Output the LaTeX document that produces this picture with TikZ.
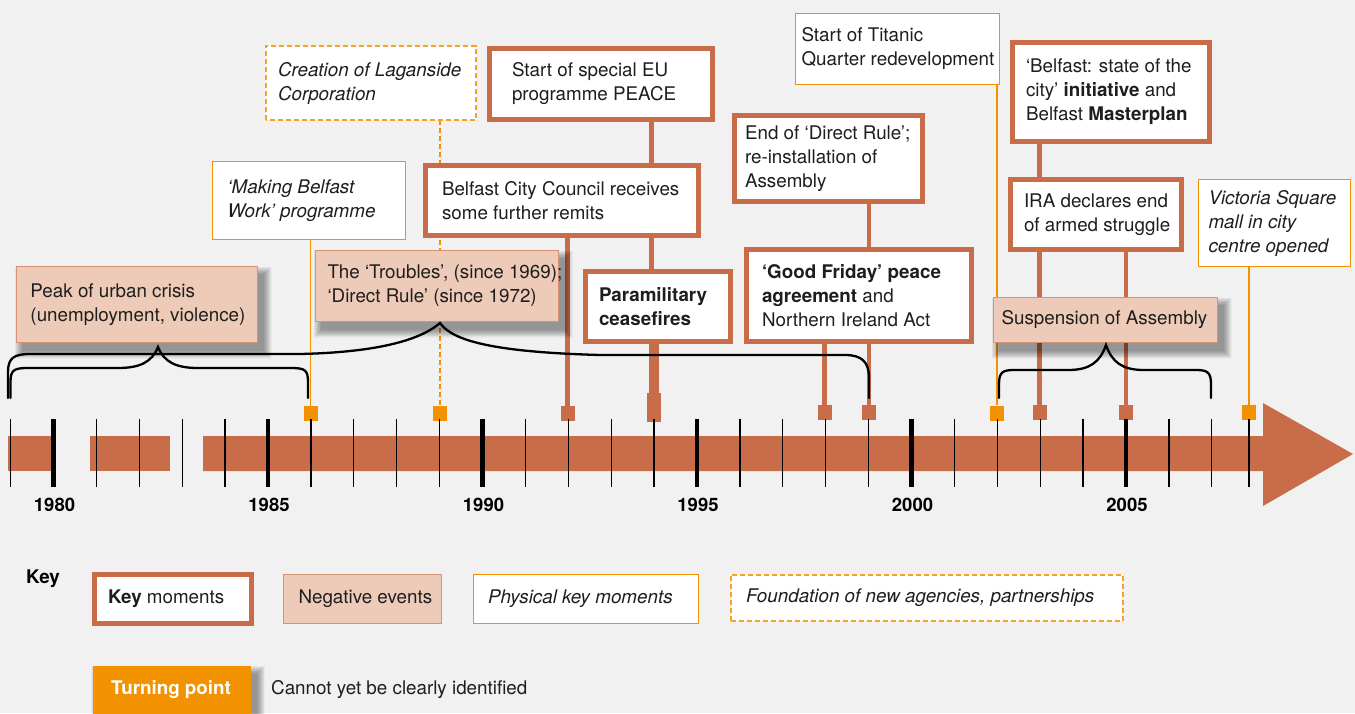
\documentclass[tikz,border=0pt]{standalone}
\usepackage{fontspec}
\setmainfont{TeX Gyre Heros}
\definecolor{rust}{HTML}{C96C4A}
\definecolor{amber}{HTML}{F39200}
\definecolor{blush}{HTML}{EDCBB8}
\definecolor{paper}{HTML}{F0F1F0}
\definecolor{ink}{HTML}{1E1E1E}

% soft drop shadow, offset down and to the right, behind a named rectangular node
\newcommand\castshadow[1]{%
  \foreach \g in {0,0.6,...,8.4}{%
    \fill[black, fill opacity=0.03]
      ([xshift={(6-\g)*1pt}, yshift={(-8+\g)*1pt}]#1.north west)
      rectangle ([xshift={(6+\g)*1pt}, yshift={(-8-\g)*1pt}]#1.south east);
  }%
}

\begin{document}
\begin{tikzpicture}[x=1pt,y=-1pt,
  txt/.style={font=\fontsize{18.8}{24}\selectfont},
  every node/.style={txt, text=ink},
  ital/.style={font=\fontsize{18.8}{24}\selectfont\itshape},
  area/.style={rectangle, inner sep=0pt},
  keyframe/.style={draw=rust, fill=white, line width=5pt},
  physframe/.style={draw=amber, fill=white, line width=1.2pt},
  agencyframe/.style={draw=amber!85, fill=white, line width=1.5pt, dash pattern=on 5pt off 3pt},
  negframe/.style={draw=rust!75, fill=blush, line width=1.2pt},
  boxtext/.style={anchor=west, align=left, inner sep=0pt},
  keyline/.style={draw=rust, line width=4.5pt},
  physline/.style={draw=amber, line width=1.8pt},
  agencyline/.style={draw=amber, line width=1.8pt, dash pattern=on 5pt off 3pt},
  bracket/.style={draw=black, line width=2.3pt, line cap=round},
  minortick/.style={draw=black, line width=1.3pt},
  majortick/.style={draw=black, line width=4.5pt},
  eventmark/.style={rectangle, inner sep=0pt, minimum width=14pt, minimum height=15pt},
  year/.style={font=\fontsize{18.5}{20}\selectfont\bfseries, text=black},
]
\useasboundingbox (0,0) rectangle (1355,713);
\fill[paper] (0,0) rectangle (1355,713);

% ---------- box areas (outlines are drawn after the connectors) ----------
\node[area, minimum width=210pt, minimum height=74pt] (lagan) at (371,83) {};
\node[area, minimum width=223pt, minimum height=71pt] (peace) at (601,84) {};
\node[area, minimum width=204pt, minimum height=71pt] (titanic) at (897.5,49) {};
\node[area, minimum width=197pt, minimum height=99pt] (city) at (1111,92) {};
\node[area, minimum width=188pt, minimum height=86pt] (direct) at (828.5,158.5) {};
\node[area, minimum width=193pt, minimum height=78pt] (mbw) at (309,200.5) {};
\node[area, minimum width=273pt, minimum height=70pt] (council) at (562,200.5) {};
\node[area, minimum width=171pt, minimum height=70pt] (ira) at (1096,214.5) {};
\node[area, minimum width=152pt, minimum height=87pt] (victoria) at (1274.5,223) {};
\node[area, minimum width=243pt, minimum height=71pt] (troubles) at (437,286) {};
\node[area, minimum width=241pt, minimum height=76pt] (peak) at (137,304.5) {};
\node[area, minimum width=145pt, minimum height=70pt] (para) at (658,306.5) {};
\node[area, minimum width=225pt, minimum height=92pt] (friday) at (859,295.5) {};
\node[area, minimum width=224pt, minimum height=45pt] (susp) at (1105.5,320) {};

% ---------- event markers on the time axis ----------
\node[eventmark, fill=amber] (m86) at (310.5,413.5) {};
\node[eventmark, fill=amber] (m89) at (440,413.5) {};
\node[eventmark, fill=rust]  (m92) at (567.5,413.5) {};
\node[eventmark, fill=rust, minimum height=29pt] (m94) at (654,407.5) {};
\node[eventmark, fill=rust]  (m98) at (824.5,412.5) {};
\node[eventmark, fill=rust]  (m99) at (869,412.5) {};
\node[eventmark, fill=amber] (m02) at (997,413) {};
\node[eventmark, fill=rust]  (m03) at (1039.5,412.5) {};
\node[eventmark, fill=rust]  (m05) at (1126,412.5) {};
\node[eventmark, fill=amber] (m08) at (1249,412.5) {};
\coordinate (m94a) at ([xshift=-2.6pt]m94.north);
\coordinate (m94b) at ([xshift=2.6pt]m94.north);

% ---------- connectors ----------
\draw[physline] (mbw.south -| m86) -- (m86.north);
\draw[agencyline] (lagan.south -| m89) -- (m89.north);
\draw[keyline] (council.south -| m92) -- (m92.north);
\draw[keyline] (peace.south -| m94a) -- (m94a);
\draw[keyline] (para.south -| m94b) -- (m94b);
\draw[keyline] (friday.south -| m98) -- (m98.north);
\draw[keyline] (direct.south -| m99) -- (m99.north);
\draw[physline] (titanic.south -| m02) -- (m02.north);
\draw[keyline] (city.south -| m03) -- (m03.north);
\draw[keyline] (ira.south -| m05) -- (m05.north);
\draw[physline] (victoria.south -| m08) -- (m08.north);

% ---------- box outlines ----------
\draw[agencyframe] (lagan.south west) rectangle (lagan.north east);
\draw[keyframe] (peace.south west) rectangle (peace.north east);
\draw[physframe] (titanic.south west) rectangle (titanic.north east);
\draw[keyframe] (city.south west) rectangle (city.north east);
\draw[keyframe] (direct.south west) rectangle (direct.north east);
\draw[physframe] (mbw.south west) rectangle (mbw.north east);
\draw[keyframe] (council.south west) rectangle (council.north east);
\draw[keyframe] (ira.south west) rectangle (ira.north east);
\draw[physframe] (victoria.south west) rectangle (victoria.north east);
\castshadow{troubles}
\draw[negframe] (troubles.south west) rectangle (troubles.north east);
\castshadow{peak}
\draw[negframe] (peak.south west) rectangle (peak.north east);
\draw[keyframe] (para.south west) rectangle (para.north east);
\draw[keyframe] (friday.south west) rectangle (friday.north east);
\castshadow{susp}
\draw[negframe] (susp.south west) rectangle (susp.north east);

% ---------- box texts ----------
\node[boxtext, ital] (lagan-t) at ([xshift=12pt]lagan.west) {Creation of Laganside\\Corporation};
\node[boxtext] (peace-t) at ([xshift=22.5pt]peace.west) {Start of special EU\\programme PEACE};
\node[boxtext] (titanic-t) at ([xshift=6pt]titanic.west) {Start of Titanic\\Quarter redevelopment};
\node[boxtext] (city-t) at ([xshift=13.5pt]city.west) {‘Belfast: state of the\\city’ \textbf{initiative} and\\Belfast \textbf{Masterplan}};
\node[boxtext] (direct-t) at ([xshift=10.5pt]direct.west) {End of ‘Direct Rule’;\\re-installation of\\Assembly};
\node[boxtext, ital] (mbw-t) at ([xshift=15pt]mbw.west) {‘Making Belfast\\Work’ programme};
\node[boxtext] (council-t) at ([xshift=16.5pt]council.west) {Belfast City Council receives\\some further remits};
\node[boxtext] (ira-t) at ([xshift=13.5pt]ira.west) {IRA declares end\\of armed struggle};
\node[boxtext, ital] (victoria-t) at ([xshift=10pt]victoria.west) {Victoria Square\\mall in city\\centre opened};
\node[boxtext] (troubles-t) at ([xshift=12pt]troubles.west) {The ‘Troubles’, (since 1969);\\‘Direct Rule’ (since 1972)};
\node[boxtext] (peak-t) at ([xshift=14pt]peak.west) {Peak of urban crisis\\(unemployment, violence)};
\node[boxtext] (para-t) at ([xshift=13.5pt]para.west) {\textbf{Paramilitary}\\\textbf{ceasefires}};
\node[boxtext] (friday-t) at ([xshift=15.5pt]friday.west) {\textbf{‘Good Friday’ peace}\\\textbf{agreement} and\\Northern Ireland Act};
\node[boxtext] (susp-t) at ([xshift=8pt]susp.west) {Suspension of Assembly};

% ---------- braces ----------
\draw[bracket] (10.5,398) -- (10.5,382) .. controls (10.5,370) and (14,368) .. (28,368)
  -- (118,368) .. controls (140,368) and (152,362) .. (158,347)
  .. controls (164,362) and (176,368) .. (198,368) -- (291,368)
  .. controls (305,368) and (308,370) .. (308,382) -- (308,398);
\draw[bracket] (8,398) -- (8,372) .. controls (8,358) and (14,354) .. (30,354)
  -- (300,354) .. controls (390,352) and (425,336) .. (440,323)
  .. controls (452,340) and (490,352) .. (600,355) -- (845,355)
  .. controls (862,355) and (869,362) .. (869,378) -- (869,398);
\draw[bracket] (999,398) -- (999,384) .. controls (999,372) and (1003,370) .. (1014,370)
  -- (1068,370) .. controls (1090,370) and (1100,362) .. (1106,345)
  .. controls (1112,362) and (1122,370) .. (1144,370) -- (1196,370)
  .. controls (1207,370) and (1211,372) .. (1211,384) -- (1211,398);

% ---------- time axis ----------
\fill[rust] (8,436) rectangle (53,471);
\fill[rust] (90,436) rectangle (170,471);
\fill[rust] (203,436) -- (1263,436) -- (1263,403) -- (1353,454) -- (1263,506)
  -- (1263,471) -- (203,471) -- cycle;
\foreach \yr in {1979,...,2007}{
  \pgfmathsetmacro{\tx}{53.5+(\yr-1980)*42.9}
  \pgfmathtruncatemacro{\major}{mod(\yr,5)==0 ? 1 : 0}
  \ifnum\major=1
    \draw[majortick] (\tx,419) -- (\tx,487);
  \else
    \draw[minortick] (\tx,419) -- (\tx,487);
  \fi
}
\draw[minortick] (1249,419) -- (1249,487);

\foreach \yr/\nm in {1980/y80,1985/y85,1990/y90,1995/y95,2000/y00,2005/y05}{
  \pgfmathsetmacro{\tx}{54.5+(\yr-1980)*42.9}
  \node[year] (\nm) at (\tx,505) {\yr};
}

% ---------- key ----------
\node[anchor=west, inner sep=0pt, font=\fontsize{18.8}{24}\selectfont\bfseries, text=black] (keyhead) at (26,579) {Key};

\node[area, minimum width=157pt, minimum height=49pt] (lg-key) at (173,599) {};
\draw[keyframe] (lg-key.south west) rectangle (lg-key.north east);
\node[boxtext] (lg-key-t) at ([xshift=13.5pt]lg-key.west) {\textbf{Key} moments};

\node[area, minimum width=158pt, minimum height=49pt] (lg-neg) at (362.5,599) {};
\draw[negframe] (lg-neg.south west) rectangle (lg-neg.north east);
\node[boxtext] (lg-neg-t) at ([xshift=15pt]lg-neg.west) {Negative events};

\node[area, minimum width=225pt, minimum height=49pt] (lg-phys) at (586,599) {};
\draw[physframe] (lg-phys.south west) rectangle (lg-phys.north east);
\node[boxtext, ital] (lg-phys-t) at ([xshift=14.5pt]lg-phys.west) {Physical key moments};

\node[area, minimum width=392pt, minimum height=46pt] (lg-agency) at (927,598) {};
\draw[agencyframe] (lg-agency.south west) rectangle (lg-agency.north east);
\node[boxtext, ital] (lg-agency-t) at ([xshift=15pt]lg-agency.west) {Foundation of new agencies, partnerships};

\node[area, minimum width=158pt, minimum height=52pt] (turn) at (172,692) {};
\castshadow{turn}
\fill[amber] (turn.south west) rectangle (turn.north east);
\node[font=\fontsize{18.8}{24}\selectfont\bfseries, text=white, inner sep=0pt] (turn-t) at (171,690) {Turning point};
\node[boxtext] (turn-note) at (271,690) {Cannot yet be clearly identified};
\end{tikzpicture}
\end{document}
